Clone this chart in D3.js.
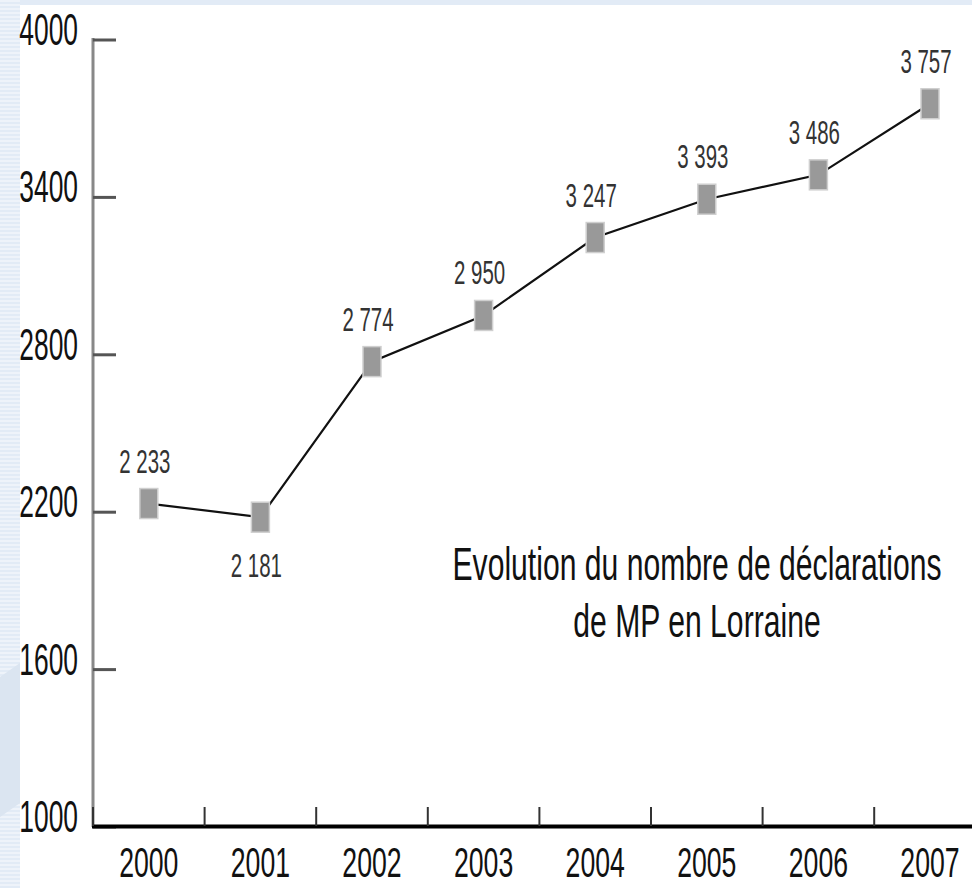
<!DOCTYPE html>
<html>
<head>
<meta charset="utf-8">
<script src="https://cdn.jsdelivr.net/npm/d3@7"></script>
<style>
  body { margin: 0; background: #e2ebf6; }
  svg { display: block; }
</style>
</head>
<body>
<script>
// the data
var years = ["2000", "2001", "2002", "2003", "2004", "2005", "2006", "2007"];
var declarations = [2233, 2181, 2774, 2950, 3247, 3393, 3486, 3757];
var yTicks = [1000, 1600, 2200, 2800, 3400, 4000];
var titleLines = ["Evolution du nombre de déclarations", "de MP en Lorraine"];

var width = 972, height = 888;
var font = "'Liberation Sans', Arial, sans-serif";

var svg = d3.select('body')
    .append('svg')
    .attr('width', width)
    .attr('height', height);

// slide background: blue band top, stripy thing on the left, white card
svg.append("rect")
    .attr("width", width).attr("height", height)
    .attr("fill", "#e2ebf6");
var stripes = svg.append("g");
for (var sy = 0; sy < height; sy += 4) {
  stripes.append("rect")
    .attr("x", 0).attr("y", sy)
    .attr("width", 20).attr("height", 2)
    .attr("fill", "#eef3fa");
}
svg.append("path")
    .attr("d", "M0,677 L20,663 L20,803 L0,817 Z")
    .attr("fill", "#dbe5f1");
svg.append("rect")
    .attr("x", 20).attr("y", 5)
    .attr("width", width - 20).attr("height", height - 5)
    .attr("fill", "#ffffff");

// scales
var x = d3.scaleBand()
    .domain(years)
    .range([93, 93 + 8 * 111.6]);
var y = d3.scaleLinear()
    .domain([1000, 4000])
    .range([827, 40]);
function cx(d, i) { return x(years[i]) + x.bandwidth() / 2; }

// y axis (grey line + ticks pointing inward)
svg.append("line")
    .attr("x1", 93).attr("x2", 93)
    .attr("y1", y(4000) - 2).attr("y2", y(1000))
    .attr("stroke", "#888").attr("stroke-width", 3);
svg.selectAll(".ytick")
    .data(yTicks)
    .enter().append("line")
    .attr("class", "ytick")
    .attr("x1", 93).attr("x2", 116)
    .attr("y1", function(d) { return y(d); })
    .attr("y2", function(d) { return y(d); })
    .attr("stroke", "#555").attr("stroke-width", 3);
svg.selectAll(".ylabel")
    .data(yTicks)
    .enter().append("g")
    .attr("class", "ylabel")
    .attr("transform", function(d) { return "translate(78," + (y(d) + 5) + ") scale(0.6,1)"; })
    .append("text")
    .attr("text-anchor", "end")
    .style("font-family", font)
    .style("font-size", "44px")
    .attr("fill", "#111")
    .text(function(d) { return d; });

// x axis: thick black baseline, ticks between the years
svg.append("line")
    .attr("x1", 92).attr("x2", width)
    .attr("y1", 826.5).attr("y2", 826.5)
    .attr("stroke", "#000").attr("stroke-width", 4);
svg.selectAll(".xtick")
    .data(years)
    .enter().append("line")
    .attr("class", "xtick")
    .attr("x1", function(d) { return x(d); })
    .attr("x2", function(d) { return x(d); })
    .attr("y1", 807).attr("y2", 826)
    .attr("stroke", "#333").attr("stroke-width", 2);
svg.selectAll(".xlabel")
    .data(years)
    .enter().append("g")
    .attr("class", "xlabel")
    .attr("transform", function(d) { return "translate(" + (x(d) + x.bandwidth() / 2) + ",877) scale(0.62,1)"; })
    .append("text")
    .attr("text-anchor", "middle")
    .style("font-family", font)
    .style("font-size", "43px")
    .attr("fill", "#111")
    .text(function(d) { return d; });

// the line itself
var line = d3.line()
    .x(function(d, i) { return cx(d, i); })
    .y(function(d) { return y(d); });
svg.append("path")
    .attr("d", line(declarations))
    .attr("fill", "none")
    .attr("stroke", "#111")
    .attr("stroke-width", 2.2);

// squarish markers (they got stretched tall on the slide)
svg.selectAll(".marker")
    .data(declarations)
    .enter().append("rect")
    .attr("class", "marker")
    .attr("x", function(d, i) { return cx(d, i) - 9; })
    .attr("y", function(d) { return y(d) - 15; })
    .attr("width", 18)
    .attr("height", 30)
    .attr("fill", "#999")
    .attr("stroke", "#cfcfcf")
    .attr("stroke-width", 1.5);

// value labels, french style "2 233". 2001 dips so its label sits under it
var fmt = function(v) { return d3.format(",")(v).replace(",", " "); };
svg.selectAll(".vlabel")
    .data(declarations)
    .enter().append("g")
    .attr("class", "vlabel")
    .attr("transform", function(d, i) {
      var below = i > 0 && i < declarations.length - 1 && d < declarations[i - 1];
      var ty = below ? y(d) + 60 : y(d) - 31;
      return "translate(" + (cx(d, i) - 4) + "," + ty + ") scale(0.62,1)";
    })
    .append("text")
    .attr("text-anchor", "middle")
    .style("font-family", font)
    .style("font-size", "33px")
    .attr("fill", "#333")
    .text(function(d) { return fmt(d); });

// title in the empty bit bottom right
svg.selectAll(".title")
    .data(titleLines)
    .enter().append("g")
    .attr("class", "title")
    .attr("transform", function(d, i) { return "translate(697," + (580 + i * 57) + ") scale(0.655,1)"; })
    .append("text")
    .attr("text-anchor", "middle")
    .style("font-family", font)
    .style("font-size", "46px")
    .attr("fill", "#111")
    .text(function(d) { return d; });
</script>
</body>
</html>
